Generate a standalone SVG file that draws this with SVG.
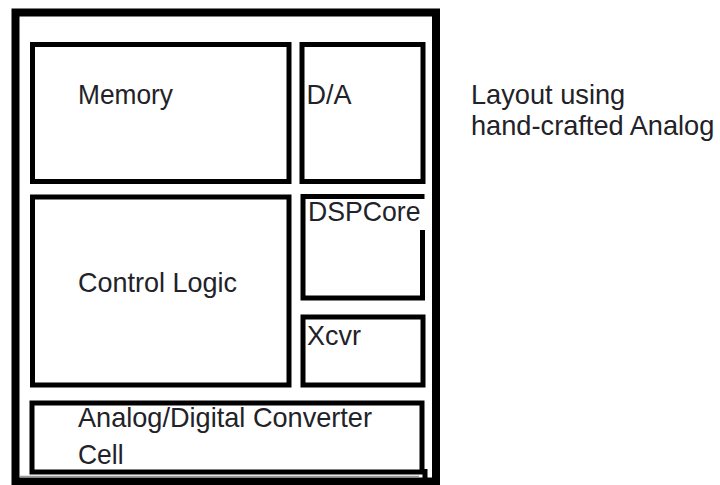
<svg xmlns="http://www.w3.org/2000/svg" width="720" height="485" viewBox="0 0 720 485">
  <style>
    .frame { fill: none; stroke: #000; stroke-width: 8; }
    .box { fill: none; stroke: #000; stroke-width: 5; }
    .lbl { font-family: "Liberation Sans", Arial, sans-serif; font-size: 28px; fill: #222228; }
    .note { font-size: 27.2px; }
  </style>
  <rect width="720" height="485" fill="#fff"/>
  <g id="chip-frame">
    <rect class="frame" x="15.5" y="12.5" width="420.5" height="469"/>
    <line x1="20" y1="476.5" x2="419" y2="476.5" stroke="#9a9a9a" stroke-width="1.5"/>
    <line x1="425" y1="469" x2="425" y2="485" stroke="#000" stroke-width="5"/>
  </g>
  <g id="memory">
    <rect class="box" x="32.5" y="44.5" width="256.5" height="137"/>
    <text class="lbl" x="78" y="104" textLength="95" lengthAdjust="spacingAndGlyphs">Memory</text>
  </g>
  <g id="da">
    <rect class="box" x="302" y="44.5" width="121" height="137"/>
    <text class="lbl" x="306.5" y="104" textLength="45" lengthAdjust="spacingAndGlyphs">D/A</text>
  </g>
  <g id="control-logic">
    <rect class="box" x="32.5" y="197" width="256.5" height="188"/>
    <text class="lbl" x="78" y="291.5" textLength="159" lengthAdjust="spacingAndGlyphs">Control Logic</text>
  </g>
  <g id="dspcore">
    <path class="box" d="M424.5,196.5 H303 V298 H422.5 V230"/>
    <text class="lbl" x="308" y="221" textLength="112.5" lengthAdjust="spacingAndGlyphs">DSPCore</text>
  </g>
  <g id="xcvr">
    <rect class="box" x="303" y="317" width="120" height="68"/>
    <text class="lbl" x="307" y="345" textLength="54" lengthAdjust="spacingAndGlyphs">Xcvr</text>
  </g>
  <g id="adc-cell">
    <rect class="box" x="32" y="403" width="390" height="69"/>
    <text class="lbl" x="78" y="426.5" textLength="294" lengthAdjust="spacingAndGlyphs">Analog/Digital Converter</text>
    <text class="lbl" x="78" y="463.5" textLength="45.5" lengthAdjust="spacingAndGlyphs">Cell</text>
  </g>
  <g id="note">
    <text class="lbl note" x="471" y="103.5">Layout using</text>
    <text class="lbl note" x="471" y="135">hand-crafted Analog</text>
  </g>
  <g id="connectors"/>
</svg>
